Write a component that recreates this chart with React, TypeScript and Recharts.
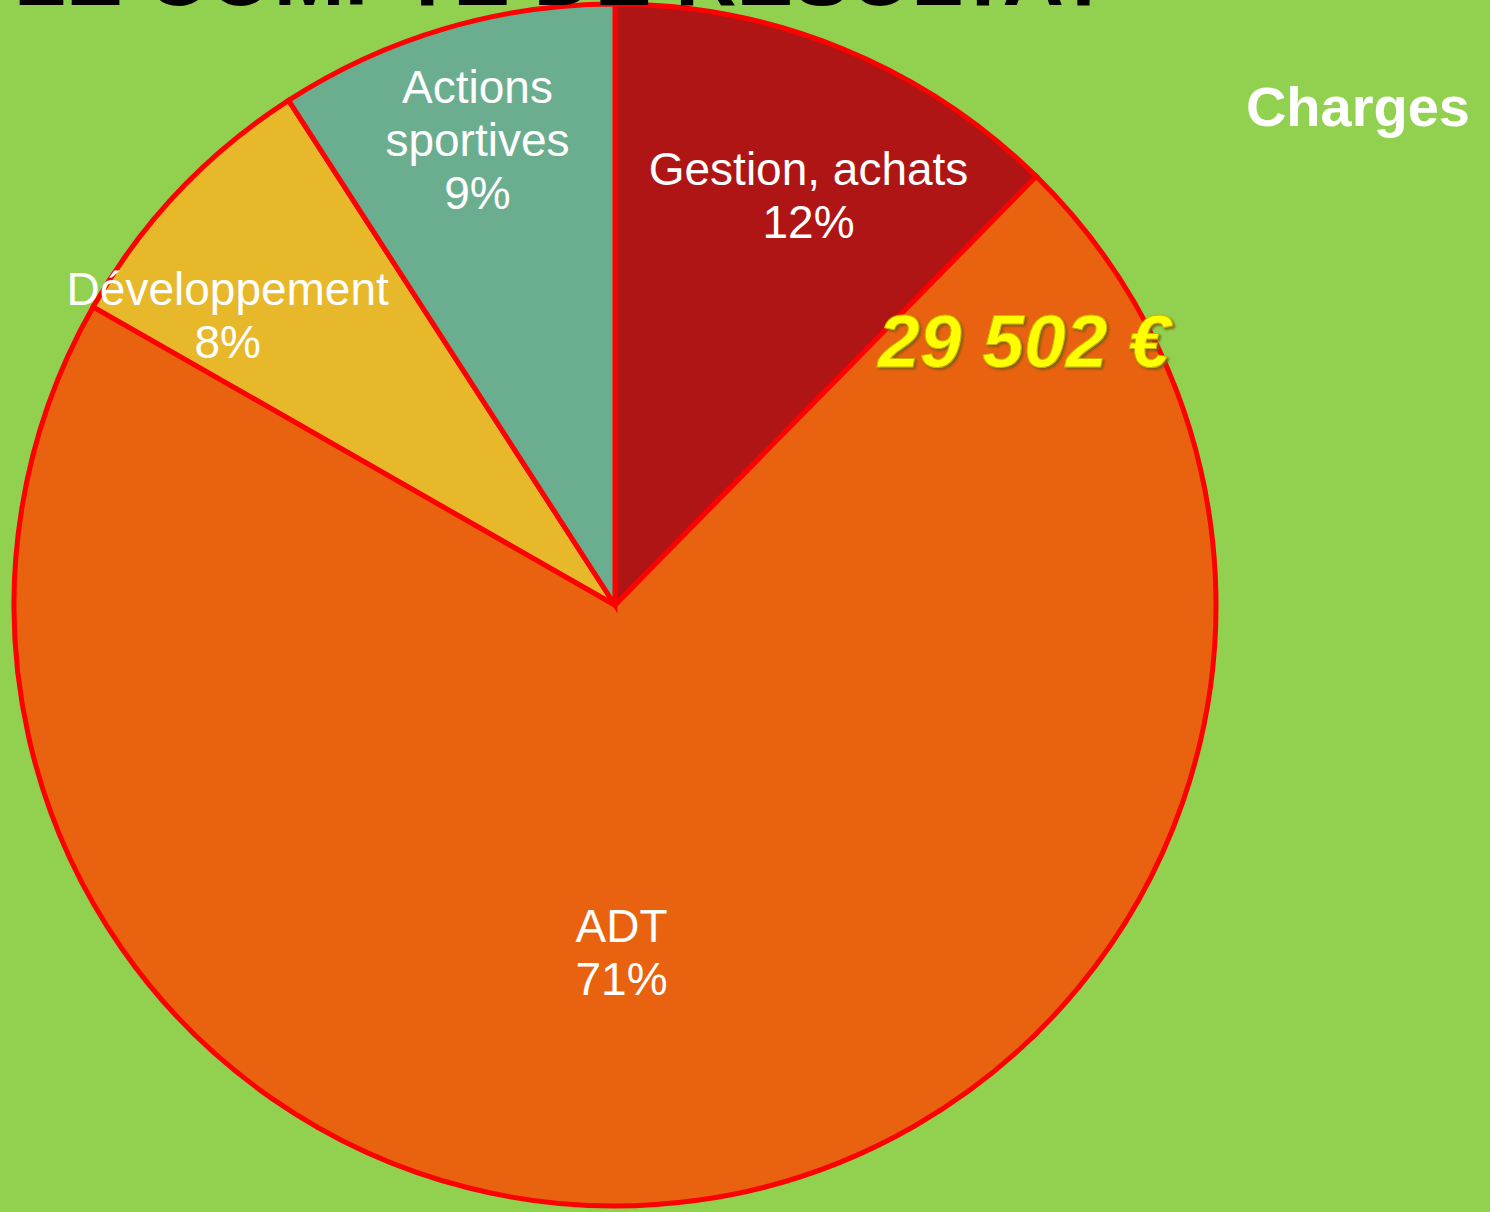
import React from "react";
import { PieChart, Pie, Cell } from "recharts";

const categories = ["Gestion, achats", "ADT", "Développement", "Actions sportives"];
const amounts = [3647, 20917, 2242, 2696];
const sliceColors = ["#B01515", "#E96210", "#E6B82A", "#6BAE8F"];
const labelLines = [["Gestion, achats"], ["ADT"], ["Développement"], ["Actions", "sportives"]];
// per-slice label placement: radius fraction and clockwise angle shift (deg)
const labelRadius = [0.755, 0.578, 0.805, 0.808];
const labelShift = [3, 6.8, -6.6, 0];
const titleText = "LE COMPTE DE RESULTAT";
const subtitleText = "Charges";
const totalText = "29 502 €";

const data = categories.map((name, i) => ({ name, value: amounts[i] }));
const total = amounts.reduce((a, b) => a + b, 0);

const W = 1490;
const H = 1212;
const RAD = Math.PI / 180;
const FONT = "'Liberation Sans', Arial, sans-serif";

const renderLabel = (props: any) => {
  const { cx, cy, midAngle, outerRadius, index, value } = props;
  const r = outerRadius * labelRadius[index];
  const ang = midAngle - labelShift[index];
  const x = cx + r * Math.cos(-ang * RAD);
  const y = cy + r * Math.sin(-ang * RAD);
  const pct = Math.round((value / total) * 100) + "%";
  const lines = [...labelLines[index], pct];
  const fs = 46;
  const lh = 53;
  const n = lines.length;
  return (
    <text key={"lbl" + index} x={x} y={y} fill="#FFFFFF" fontSize={fs} fontFamily={FONT} textAnchor="middle">
      {lines.map((t, i) => (
        <tspan key={i} x={x} y={y + (i - (n - 1) / 2) * lh + fs * 0.36}>
          {t}
        </tspan>
      ))}
    </text>
  );
};

export default function App() {
  return (
    <div style={{ position: "fixed", left: 0, top: 0, width: W, height: H, background: "#92D050", overflow: "hidden" }}>
      <div style={{ position: "absolute", left: 0, top: 0 }}>
        <PieChart width={W} height={H} margin={{ top: 0, right: 0, bottom: 0, left: 0 }}>
          <Pie
            data={data}
            dataKey="value"
            nameKey="name"
            cx={615}
            cy={605}
            outerRadius={601}
            startAngle={90}
            endAngle={-270}
            stroke="#FF0000"
            strokeWidth={5}
            isAnimationActive={false}
            labelLine={false}
            label={renderLabel}
          >
            {data.map((d, i) => (
              <Cell key={d.name} fill={sliceColors[i]} stroke="#FF0000" strokeWidth={5} />
            ))}
          </Pie>
        </PieChart>
      </div>
      <svg width={W} height={H} style={{ position: "absolute", left: 0, top: 0, pointerEvents: "none" }}>
        <defs>
          <filter id="emboss" x="-10%" y="-20%" width="120%" height="140%">
            <feDropShadow dx={2} dy={2} stdDeviation={1.2} floodColor="#7A5A10" floodOpacity={0.85} />
          </filter>
        </defs>
        <text x={14} y={5} fontSize={85} fontWeight="bold" fontFamily={FONT} fill="#000000">
          {titleText}
        </text>
        <text x={1470} y={126} fontSize={56} fontWeight="bold" fontFamily={FONT} fill="#FFFFFF" textAnchor="end">
          {subtitleText}
        </text>
        <text x={1024} y={367} fontSize={75} fontWeight="bold" fontStyle="italic" fontFamily={FONT} fill="#FFFF00" stroke="#C8B400" strokeWidth={1} textAnchor="middle" filter="url(#emboss)">
          {totalText}
        </text>
      </svg>
    </div>
  );
}
